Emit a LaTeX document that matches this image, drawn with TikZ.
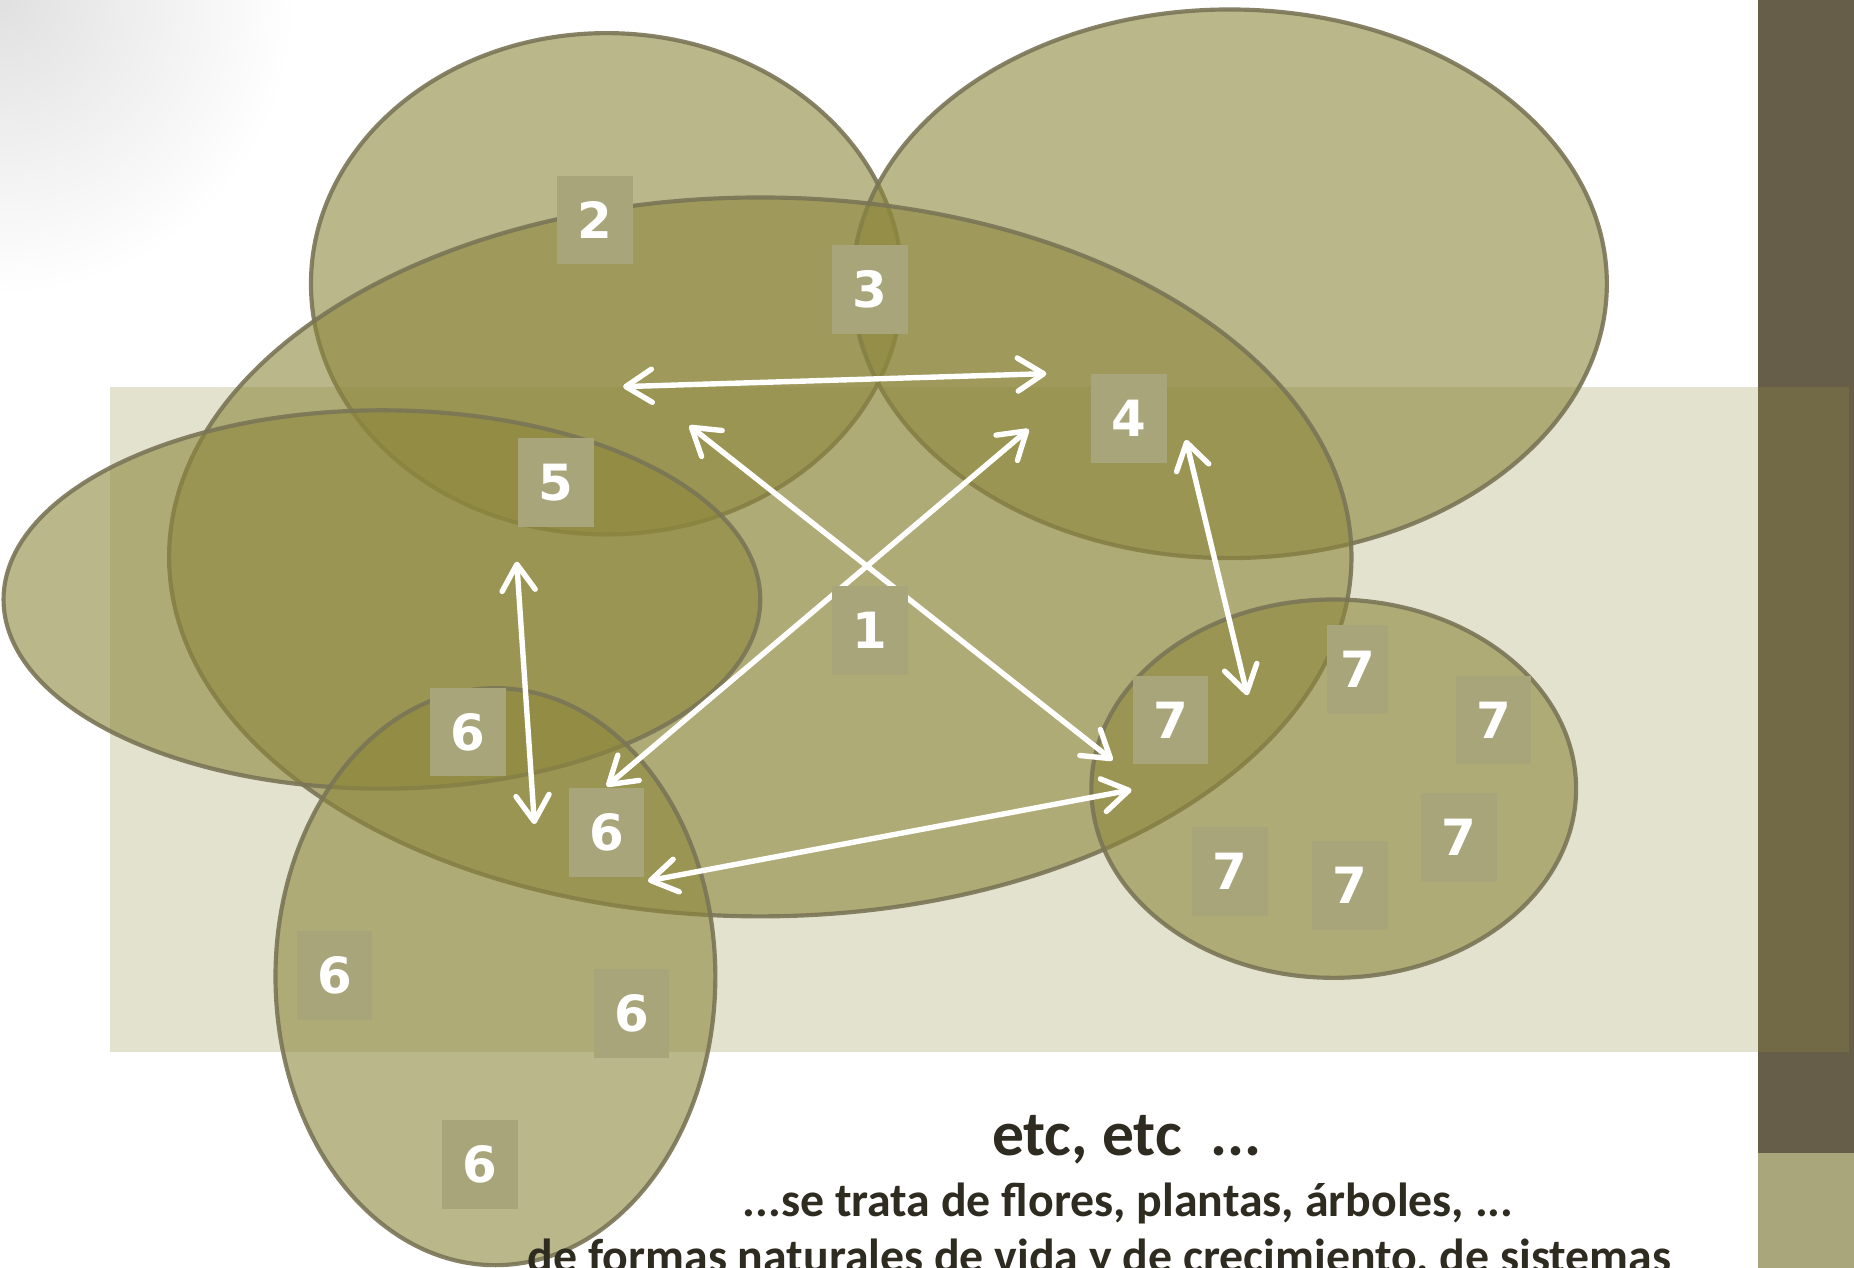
\documentclass[tikz,border=0pt]{standalone}
\usepackage{fontspec}
\setmainfont{Carlito}
\newfontfamily\numfont{DejaVu Sans}
\usetikzlibrary{arrows.meta}
\definecolor{barolive}{HTML}{665E48}
\definecolor{barlight}{HTML}{A9A67C}
\definecolor{bandolive}{HTML}{959043}
\definecolor{blobfill}{HTML}{8D873C}
\definecolor{blobline}{HTML}{7A7556}
\definecolor{boxfill}{HTML}{A9A57A}
\definecolor{textdark}{HTML}{2E2B20}
\tikzset{
	blob/.style={fill=blobfill, fill opacity=0.6, draw=blobline, draw opacity=0.9, line width=1pt},
	numbox/.style={fill=boxfill, text=white, font=\numfont\bfseries\fontsize{12}{12}\selectfont, minimum width=0.64cm, minimum height=0.75cm, inner sep=0pt},
	link/.style={draw=white, line width=1.3pt, line cap=round, {Straight Barb[length=2.2mm,width=2.8mm,round]}-{Straight Barb[length=2.2mm,width=2.8mm,round]}},
	caption/.style={text=textdark, anchor=base, inner sep=0pt}
}

\begin{document}
\begin{tikzpicture}[x=0.01cm,y=-0.01cm]
		%%%%% START %%%%%
		\useasboundingbox (0,0) rectangle (1568,1072);
		\clip (0,0) rectangle (1568,1072);
		\fill[white] (0,0) rectangle (1568,1072);
		\shade[inner color=black!12, outer color=white] (-250,-250) rectangle (250,250);
		
		% side bar
		\fill[barolive] (1487,0) rectangle (1568,975);
		\fill[barlight] (1487,975) rectangle (1568,1072);
		
		% band
		\fill[bandolive, fill opacity=0.26] (93,327) rectangle (1564,890);
		
		% ellipses
		\draw[blob] (513,240) ellipse [x radius=250, y radius=212];
		\draw[blob] (1040,240) ellipse [x radius=319, y radius=232];
		\draw[blob] (643,471) ellipse [x radius=500, y radius=304];
		\draw[blob] (323,507) ellipse [x radius=320, y radius=160];
		\draw[blob] (419,826) ellipse [x radius=186, y radius=244];
		\draw[blob] (1128,667) ellipse [x radius=205, y radius=160];
		
		% arrow ends
		\coordinate (a1s) at (527,327);
		\coordinate (a1e) at (885,316);
		\coordinate (a2s) at (583,360);
		\coordinate (a2e) at (941,643);
		\coordinate (a3s) at (870,363);
		\coordinate (a3e) at (513,665);
		\coordinate (a4s) at (1003,372);
		\coordinate (a4e) at (1055,588);
		\coordinate (a5s) at (437,475);
		\coordinate (a5e) at (452,697);
		\coordinate (a6s) at (548,745);
		\coordinate (a6e) at (957,668);
		
		\draw[link] (a1s) -- (a1e);
		\draw[link] (a2s) -- (a2e);
		\draw[link] (a3s) -- (a3e);
		\draw[link] (a4s) -- (a4e);
		\draw[link] (a5s) -- (a5e);
		\draw[link] (a6s) -- (a6e);
		
		% numbers
		\node[numbox] (n1) at (736,533) {1};
		\node[numbox] (n2) at (503,186) {2};
		\node[numbox] (n3) at (736,245) {3};
		\node[numbox] (n4) at (955,354) {4};
		\node[numbox] (n5) at (470,408) {5};
		\node[numbox] (n6a) at (396,619) {6};
		\node[numbox] (n6b) at (513,704) {6};
		\node[numbox] (n6c) at (283,825) {6};
		\node[numbox] (n6d) at (534,857) {6};
		\node[numbox] (n6e) at (406,985) {6};
		\node[numbox] (n7a) at (990,609) {7};
		\node[numbox, minimum width=0.52cm] (n7b) at (1148,566) {7};
		\node[numbox] (n7c) at (1263,609) {7};
		\node[numbox] (n7d) at (1234,708) {7};
		\node[numbox] (n7e) at (1040,737) {7};
		\node[numbox] (n7f) at (1142,749) {7};
		
		% text
		\node[caption, font=\bfseries\fontsize{15.3}{18}\selectfont] (etc) at (953,977) {etc, etc~~...};
		\node[caption, font=\bfseries\fontsize{11.5}{14}\selectfont] (trata) at (954,1029) {...se trata de flores, plantas, árboles, ...};
		\node[caption, font=\bfseries\fontsize{11.5}{14}\selectfont] (formas) at (930,1076) {de formas naturales de vida y de crecimiento, de sistemas};
		%%%%% END %%%%%
\end{tikzpicture}
\end{document}
